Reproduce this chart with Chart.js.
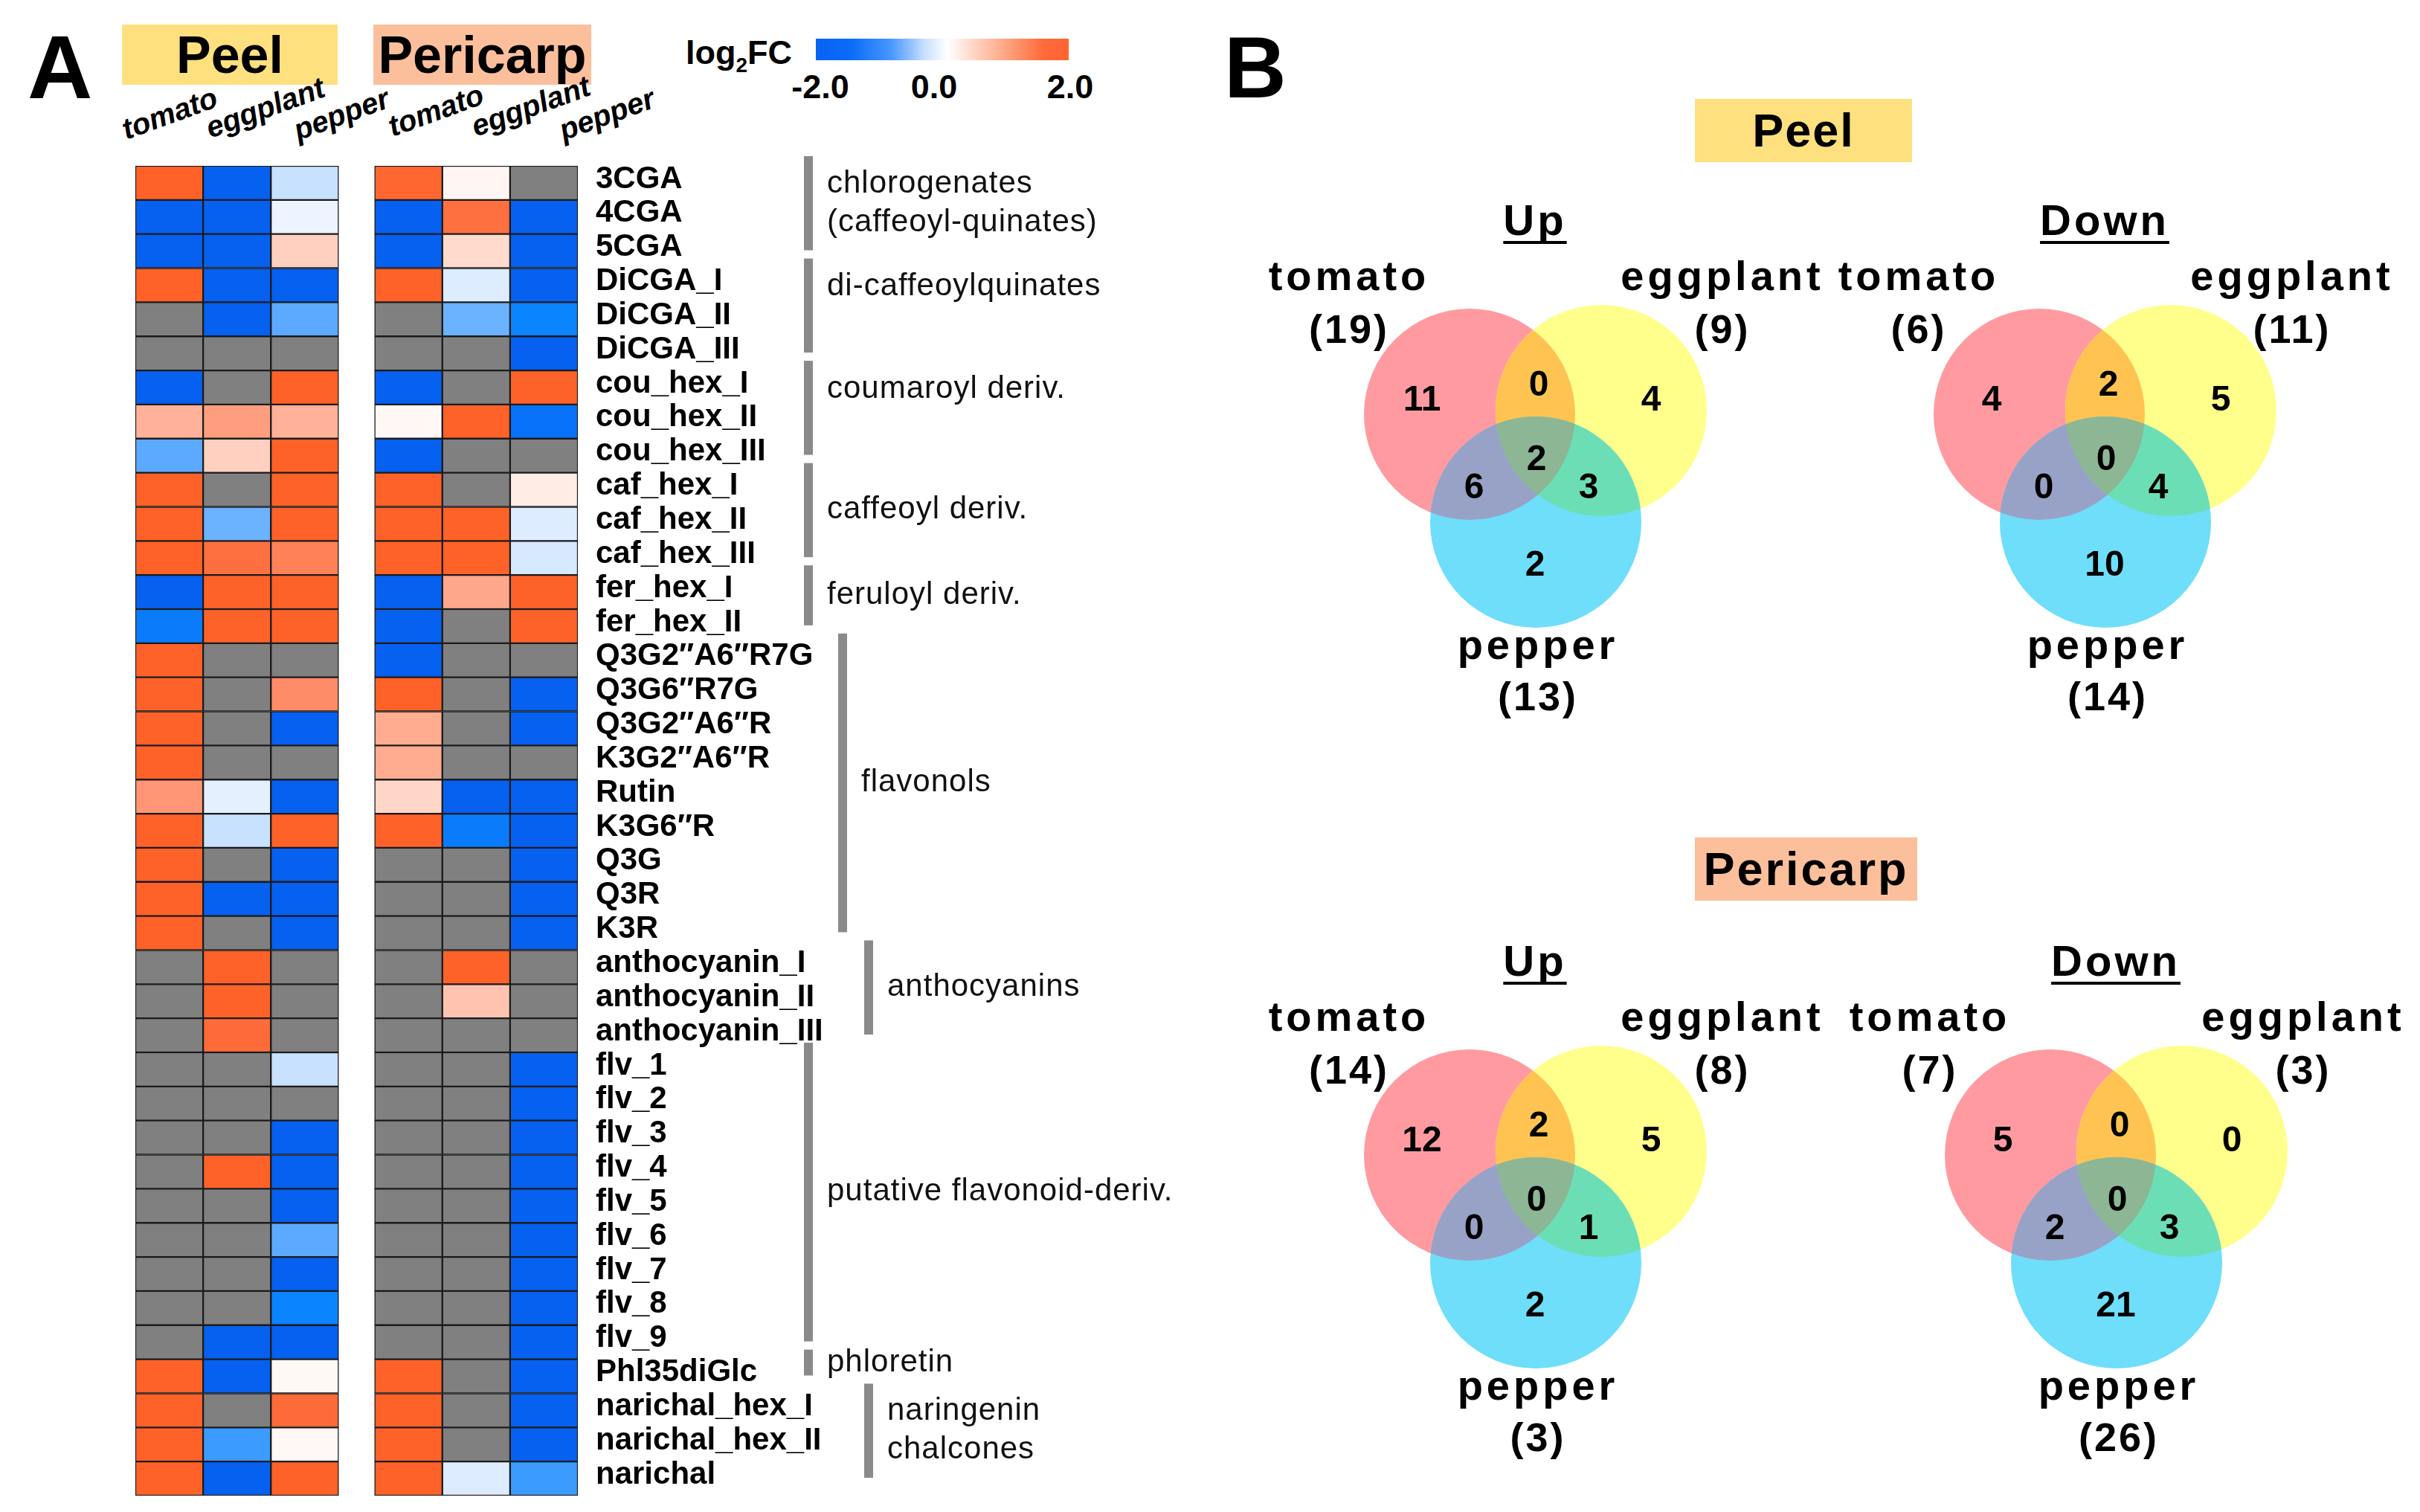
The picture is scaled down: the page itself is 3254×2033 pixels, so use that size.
<!DOCTYPE html>
<html>
<head>
<meta charset="utf-8">
<script src="https://cdn.jsdelivr.net/npm/chart.js@4.4.0/dist/chart.umd.min.js"></script>
<style>
  html, body { margin: 0; padding: 0; background: #fff; }
  #page { position: relative; width: 3254px; height: 2033px; overflow: hidden;
          font-family: "Liberation Sans", Arial, sans-serif; color: #000; }
  .txt { position: absolute; font-weight: bold; line-height: 1; white-space: nowrap; }
  .tag { position: absolute; font-weight: bold; line-height: 1; display: flex;
         align-items: center; justify-content: center; white-space: nowrap; }
  .col { position: absolute; font-weight: bold; font-style: italic; font-size: 40px; line-height: 1;
         transform-origin: 0 34px; transform: rotate(-20deg); white-space: nowrap; }
  .tick { position: absolute; font-weight: bold; font-size: 45px; line-height: 1;
          transform: translateX(-50%); white-space: nowrap; }
  canvas { position: absolute; }
</style>
</head>
<body>
<div id="page">
  <div class="txt" style="left:37px;top:30px;font-size:121px;">A</div>
  <div class="txt" style="left:1646px;top:33px;font-size:116px;">B</div>

  <div class="tag" style="left:164px;top:33px;width:290px;height:81px;background:#ffe07f;font-size:70px;">Peel</div>
  <div class="tag" style="left:502px;top:33px;width:293px;height:81px;background:#fbbf9c;font-size:70px;">Pericarp</div>

  <div class="txt" style="left:922px;top:48px;font-size:45px;">log<span style="font-size:28px;position:relative;top:11px;">2</span>FC</div>
  <div style="position:absolute;left:1097px;top:52px;width:340px;height:29px;
       background:linear-gradient(to right,#0a62f2 0%,#0a6cf8 14%,#4a98ff 30%,#c8e0ff 43%,#ffffff 52%,#ffd4c2 63%,#ff9a74 78%,#ff6a38 90%,#ff6430 100%);"></div>
  <div class="tick" style="left:1103px;top:94px;">-2.0</div>
  <div class="tick" style="left:1256px;top:94px;">0.0</div>
  <div class="tick" style="left:1439px;top:94px;">2.0</div>

  <div class="col" style="left:170px;top:154px;">tomato</div>
  <div class="col" style="left:283px;top:152px;">eggplant</div>
  <div class="col" style="left:401px;top:155px;">pepper</div>
  <div class="col" style="left:528px;top:150px;">tomato</div>
  <div class="col" style="left:640px;top:150px;">eggplant</div>
  <div class="col" style="left:758px;top:155px;">pepper</div>

  <canvas id="heatmap" width="1470" height="1833" style="left:170px;top:200px;"></canvas>

  <div class="tag" style="left:2279px;top:133px;width:292px;height:85px;background:#ffe07f;font-size:63px;letter-spacing:2px;">Peel</div>
  <div class="tag" style="left:2279px;top:1126px;width:299px;height:85px;background:#fbbf9c;font-size:63px;letter-spacing:3px;">Pericarp</div>

  <canvas id="venn-peel-up" width="800" height="770" style="left:1676px;top:227px;"></canvas>
  <canvas id="venn-peel-down" width="800" height="770" style="left:2442px;top:227px;"></canvas>
  <canvas id="venn-peri-up" width="800" height="770" style="left:1676px;top:1223px;"></canvas>
  <canvas id="venn-peri-down" width="800" height="770" style="left:2457px;top:1223px;"></canvas>
</div>

<script>
// ── Heatmap data (log2FC, null = not detected / grey) ─────────
const COMPOUNDS = [
  '3CGA', '4CGA', '5CGA', 'DiCGA_I', 'DiCGA_II', 'DiCGA_III',
  'cou_hex_I', 'cou_hex_II', 'cou_hex_III', 'caf_hex_I', 'caf_hex_II', 'caf_hex_III',
  'fer_hex_I', 'fer_hex_II',
  'Q3G2″A6″R7G', 'Q3G6″R7G', 'Q3G2″A6″R', 'K3G2″A6″R', 'Rutin', 'K3G6″R', 'Q3G', 'Q3R', 'K3R',
  'anthocyanin_I', 'anthocyanin_II', 'anthocyanin_III',
  'flv_1', 'flv_2', 'flv_3', 'flv_4', 'flv_5', 'flv_6', 'flv_7', 'flv_8', 'flv_9',
  'Phl35diGlc', 'narichal_hex_I', 'narichal_hex_II', 'narichal',
];

const PEEL_TOMATO = [
  2, -2, -2, 2, null, null, -2, 0.8, -1.1, 2, 2, 2, -2, -1.7,
  2, 2, 2, 2, 1.1, 2, 2, 2, 2,
  null, null, null, null, null, null, null, null, null, null, null, null,
  2, 2, 2, 2,
];
const PEEL_EGGPLANT = [
  -2, -2, -2, -2, -2, null, null, 1.0, 0.55, null, -1.0, 1.7, 2, 2,
  null, null, null, null, -0.2, -0.4, null, -2, null,
  2, 2, 1.8, null, null, null, 2, null, null, null, null, -2,
  -2, null, -1.3, -2,
];
const PEEL_PEPPER = [
  -0.4, -0.15, 0.55, -2, -1.1, null, 2, 0.8, 2, 2, 2, 1.4, 2, 2,
  null, 1.2, -2, null, -2, 2, -2, -2, -2,
  null, null, null, -0.4, null, -2, -2, -2, -1.1, -2, -1.6, -2,
  0.03, 1.8, 0.03, 2,
];
const PERI_TOMATO = [
  1.9, -2, -2, 2, null, null, -2, 0.03, -2, 2, 2, 2, -2, -2,
  -2, 2, 0.85, 0.85, 0.5, 2, null, null, null,
  null, null, null, null, null, null, null, null, null, null, null, null,
  2, 2, 2, 2,
];
const PERI_EGGPLANT = [
  0.05, 1.7, 0.45, -0.25, -1.0, null, null, 2, null, null, 2, 2, 0.9, null,
  null, null, null, null, -2, -1.7, null, null, null,
  2, 0.65, null, null, null, null, null, null, null, null, null, null,
  null, null, null, -0.25,
];
const PERI_PEPPER = [
  null, -2, -2, -2, -1.6, -2, 2, -1.8, null, 0.2, -0.25, -0.3, 2, 2,
  null, -2, -2, null, -2, -2, -2, -2, -2,
  null, null, null, -2, -2, -2, -2, -2, -2, -2, -2, -2,
  -2, -2, -2, -1.3,
];

// ── Venn data (region order: tomato, eggplant, pepper, T∩E, T∩P, E∩P, T∩E∩P)
const SPECIES = ['tomato', 'eggplant', 'pepper'];
const PEEL_UP = [11, 4, 2, 0, 6, 3, 2];
const PEEL_UP_TOTAL = [19, 9, 13];
const PEEL_DOWN = [4, 5, 10, 2, 0, 4, 0];
const PEEL_DOWN_TOTAL = [6, 11, 14];
const PERI_UP = [12, 5, 2, 2, 0, 1, 0];
const PERI_UP_TOTAL = [14, 8, 3];
const PERI_DOWN = [5, 0, 21, 0, 2, 3, 0];
const PERI_DOWN_TOTAL = [7, 3, 26];

const FONT = '"Liberation Sans", Arial, sans-serif';

// ── Colour scale  -2 blue → 0 white → +2 orange ───────────────
const STOPS = [
  [-2,   [6, 96, 240]],
  [-1.6, [10, 132, 255]],
  [-1.1, [92, 170, 255]],
  [-0.4, [200, 225, 255]],
  [-0.15,[236, 244, 255]],
  [0,    [255, 250, 248]],
  [0.5,  [255, 214, 200]],
  [0.85, [255, 172, 145]],
  [1.2,  [255, 140, 104]],
  [1.7,  [255, 112, 64]],
  [2,    [255, 98, 40]],
];
function fcColor(v) {
  if (v == null) return '#808080';
  const t = Math.max(-2, Math.min(2, v));
  for (let i = 1; i < STOPS.length; i++) {
    const [v1, c1] = STOPS[i];
    const [v0, c0] = STOPS[i - 1];
    if (t <= v1) {
      const f = (t - v0) / (v1 - v0);
      const c = c0.map((a, k) => Math.round(a + (c1[k] - a) * f));
      return `rgb(${c[0]},${c[1]},${c[2]})`;
    }
  }
  return 'rgb(255,98,40)';
}

// ── Heatmap ───────────────────────────────────────────────────
const GAP = 0.53;   // blank space between Peel and Pericarp blocks (in columns)
const HEAT_COLUMNS = [
  { values: PEEL_TOMATO,   x0: 0 },
  { values: PEEL_EGGPLANT, x0: 1 },
  { values: PEEL_PEPPER,   x0: 2 },
  { values: PERI_TOMATO,   x0: 3 + GAP },
  { values: PERI_EGGPLANT, x0: 4 + GAP },
  { values: PERI_PEPPER,   x0: 5 + GAP },
];

const GROUPS = [
  { label: ['chlorogenates', '(caffeoyl-quinates)'], from: 0,  to: 2,  lane: 0, pos: 'mid' },
  { label: ['di-caffeoylquinates'],                  from: 3,  to: 5,  lane: 0, pos: 'top' },
  { label: ['coumaroyl deriv.'],                     from: 6,  to: 8,  lane: 0, pos: 'top' },
  { label: ['caffeoyl deriv.'],                      from: 9,  to: 11, lane: 0, pos: 'mid' },
  { label: ['feruloyl deriv.'],                      from: 12, to: 13, lane: 0, pos: 'mid' },
  { label: ['flavonols'],                            from: 14, to: 22, lane: 1, pos: 'mid' },
  { label: ['anthocyanins'],                         from: 23, to: 25, lane: 2, pos: 'mid' },
  { label: ['putative flavonoid-deriv.'],            from: 26, to: 34, lane: 0, pos: 'mid' },
  { label: ['phloretin'],                            from: 35, to: 35, lane: 0, pos: 'mid' },
  { label: ['naringenin', 'chalcones'],              from: 36, to: 38, lane: 2, pos: 'mid' },
];
const LANE_X = [911, 957, 992];   // bracket x inside the heatmap canvas

const groupBrackets = {
  id: 'groupBrackets',
  afterDraw(chart) {
    const ctx = chart.ctx;
    const ys = chart.scales.y;
    const rowH = ys.getPixelForValue(1) - ys.getPixelForValue(0);
    ctx.save();
    GROUPS.forEach(g => {
      const top = ys.getPixelForValue(g.from) - rowH / 2 - 13;
      const bot = ys.getPixelForValue(g.to) + rowH / 2 - 24;
      const x = LANE_X[g.lane];
      ctx.fillStyle = '#8a8a8a';
      ctx.fillRect(x, top, 12, bot - top);
      ctx.fillStyle = '#111';
      ctx.font = `42px ${FONT}`;
      ctx.letterSpacing = '1px';
      ctx.textAlign = 'left';
      ctx.textBaseline = 'middle';
      const cy = g.pos === 'top' ? top + 38 : (top + bot) / 2;
      const n = g.label.length;
      g.label.forEach((s, i) => {
        ctx.fillText(s, x + 31, cy + (i - (n - 1) / 2) * 52);
      });
    });
    ctx.restore();
  }
};

new Chart(document.getElementById('heatmap'), {
  type: 'bar',
  data: {
    labels: COMPOUNDS,
    datasets: HEAT_COLUMNS.map(col => ({
      data: col.values.map(() => [col.x0, col.x0 + 1]),
      backgroundColor: col.values.map(fcColor),
      borderColor: '#1b1b1b',
      borderWidth: 1.5,
      borderSkipped: false,
      categoryPercentage: 1,
      barPercentage: 1,
      grouped: false,
    })),
  },
  options: {
    indexAxis: 'y',
    responsive: false,
    animation: false,
    events: [],
    layout: { padding: { left: 12, top: 23, bottom: 22, right: 0 } },
    plugins: { legend: { display: false }, tooltip: { enabled: false } },
    scales: {
      x: { type: 'linear', min: 0, max: 6 + GAP, display: false },
      y: {
        type: 'category',
        position: 'right',
        grid: { display: false, drawTicks: false },
        border: { display: false },
        ticks: {
          autoSkip: false, padding: 24, labelOffset: -5, color: '#000',
          font: { family: FONT, size: 42, weight: 'bold' },
        },
        afterFit: s => { s.width = 863; s.paddingTop = 0; s.paddingBottom = 0; },
      },
    },
  },
  plugins: [groupBrackets],
});

// ── Venn diagrams ─────────────────────────────────────────────
const CIRCLE_FILL = ['rgb(255,155,160)', 'rgb(255,255,140)', 'rgb(110,222,250)'];
const OVERLAP_FILL = { te: 'rgb(255,195,82)', tp: 'rgb(152,162,198)', ep: 'rgb(108,222,182)', tep: 'rgb(140,182,148)' };
const VENN_R = 142;
const CIRCLE_OFFSETS = [[0, 0], [177, -5], [89, 145]];
// where each region count sits, relative to the tomato circle centre
const REGION_OFFSETS = [[-64, -22], [244, -22], [88, 200], [93, -42], [6, 96], [160, 96], [90, 58]];
const LABEL_X = [-162, 340, 92];
const LABEL_Y = [-167, -167, 329];
const TOTAL_Y = [-96, -96, 398];
const ORIGIN = [300, 330];

function vennPlugin(title, counts, totals) {
  return {
    id: 'venn',
    afterDatasetsDraw(chart) {
      const ctx = chart.ctx;
      const els = chart.getDatasetMeta(0).data;
      const circle = el => { ctx.beginPath(); ctx.arc(el.x, el.y, el.options.radius, 0, Math.PI * 2); };
      const overlap = (idx, color) => {
        ctx.save();
        idx.forEach(i => { circle(els[i]); ctx.clip(); });
        ctx.fillStyle = color;
        ctx.fillRect(0, 0, chart.width, chart.height);
        ctx.restore();
      };
      overlap([0, 1], OVERLAP_FILL.te);
      overlap([0, 2], OVERLAP_FILL.tp);
      overlap([1, 2], OVERLAP_FILL.ep);
      overlap([0, 1, 2], OVERLAP_FILL.tep);

      const ox = els[0].x, oy = els[0].y;
      ctx.save();
      ctx.fillStyle = '#000';
      ctx.textAlign = 'center';
      ctx.textBaseline = 'alphabetic';

      ctx.font = `bold 48px ${FONT}`;
      ctx.letterSpacing = '0px';
      counts.forEach((n, i) => {
        const [dx, dy] = REGION_OFFSETS[i];
        ctx.fillText(String(n), ox + dx, oy + dy + 17);
      });

      ctx.font = `bold 56px ${FONT}`;
      ctx.letterSpacing = '5px';
      SPECIES.forEach((s, i) => {
        ctx.fillText(s, ox + LABEL_X[i], oy + LABEL_Y[i]);
      });
      ctx.font = `bold 54px ${FONT}`;
      ctx.letterSpacing = '3px';
      totals.forEach((n, i) => {
        ctx.fillText(`(${n})`, ox + LABEL_X[i], oy + TOTAL_Y[i]);
      });

      ctx.font = `bold 58px ${FONT}`;
      ctx.letterSpacing = '4px';
      const tx = ox + 88, ty = oy - 241;
      ctx.fillText(title, tx, ty);
      const w = ctx.measureText(title).width;
      ctx.fillRect(tx - w / 2, ty + 8, w, 4);
      ctx.restore();
    }
  };
}

function drawVenn(id, title, counts, totals) {
  new Chart(document.getElementById(id), {
    type: 'bubble',
    data: {
      datasets: [{
        data: CIRCLE_OFFSETS.map(([dx, dy]) => ({ x: ORIGIN[0] + dx, y: ORIGIN[1] + dy, r: VENN_R })),
        backgroundColor: CIRCLE_FILL,
        borderWidth: 0,
        hoverRadius: 0,
      }],
    },
    options: {
      responsive: false,
      animation: false,
      events: [],
      layout: { padding: 0, autoPadding: false },
      plugins: { legend: { display: false }, tooltip: { enabled: false } },
      scales: {
        x: { type: 'linear', min: 0, max: 800, display: false },
        y: { type: 'linear', min: 0, max: 770, reverse: true, display: false },
      },
    },
    plugins: [vennPlugin(title, counts, totals)],
  });
}

drawVenn('venn-peel-up',   'Up',   PEEL_UP,   PEEL_UP_TOTAL);
drawVenn('venn-peel-down', 'Down', PEEL_DOWN, PEEL_DOWN_TOTAL);
drawVenn('venn-peri-up',   'Up',   PERI_UP,   PERI_UP_TOTAL);
drawVenn('venn-peri-down', 'Down', PERI_DOWN, PERI_DOWN_TOTAL);
</script>
</body>
</html>
